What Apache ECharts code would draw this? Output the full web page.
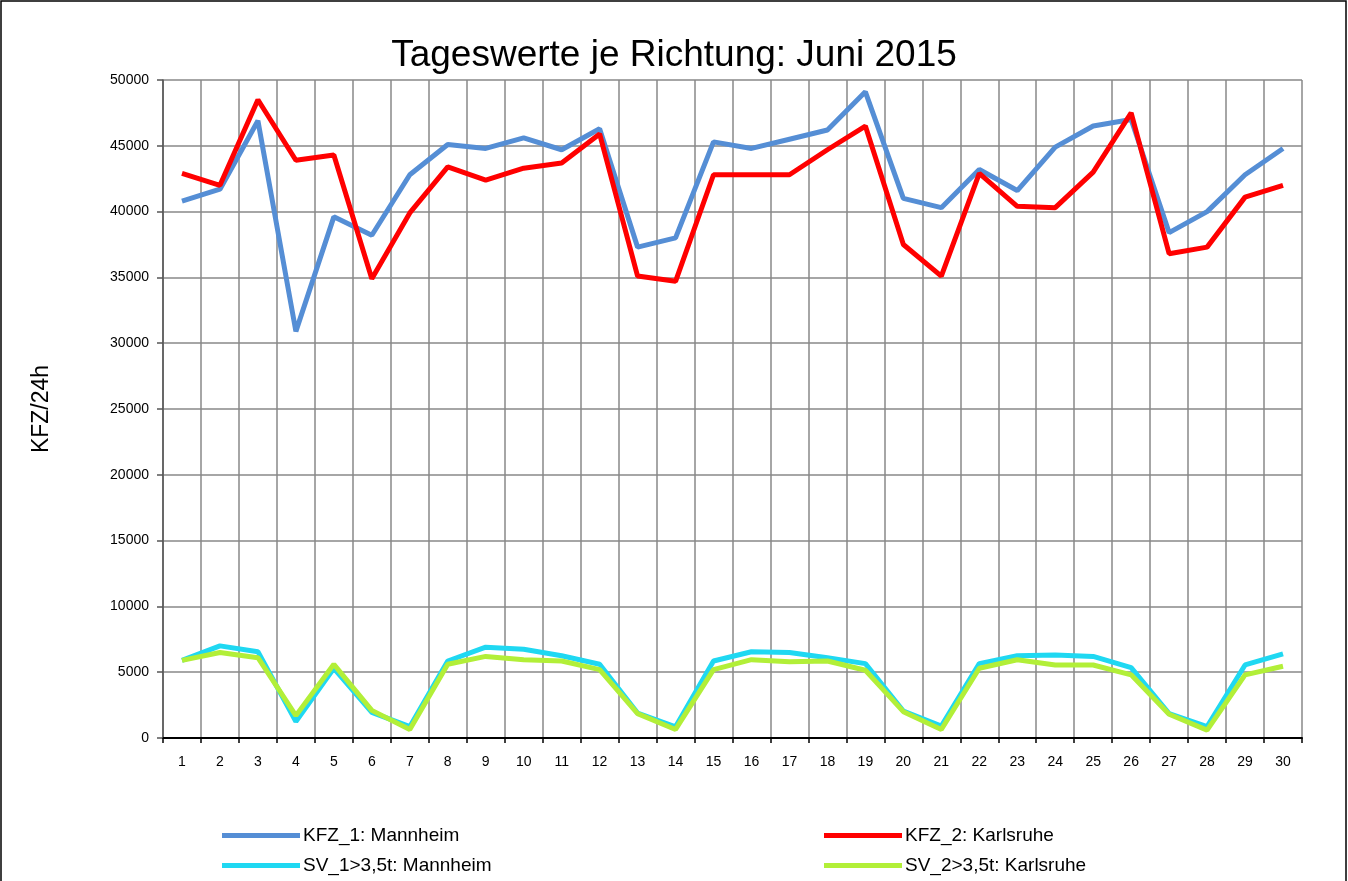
<!DOCTYPE html>
<html>
<head>
<meta charset="utf-8">
<style>
  html, body { margin: 0; padding: 0; background: #fff; }
  #chart-dev { width: 1348px; height: 881px; }
</style>
<script src="https://cdn.jsdelivr.net/npm/echarts@6/dist/echarts.min.js"></script>
</head>
<body>
<div id="chart-dev"></div>
<script>
var days = ['1','2','3','4','5','6','7','8','9','10','11','12','13','14','15',
            '16','17','18','19','20','21','22','23','24','25','26','27','28','29','30'];

var kfz1 = [40800, 41700, 46900, 30900, 39600, 38200, 42800, 45100, 44800, 45600,
            44700, 46300, 37300, 38000, 45300, 44800, 45500, 46200, 49100, 41000,
            40300, 43200, 41600, 44900, 46500, 47000, 38400, 40000, 42800, 44800];

var kfz2 = [42900, 42000, 48500, 43900, 44300, 34900, 39900, 43400, 42400, 43300,
            43700, 45900, 35100, 34700, 42800, 42800, 42800, 44700, 46500, 37500,
            35100, 42900, 40400, 40300, 43000, 47500, 36800, 37300, 41100, 42000];

var sv1 = [5900, 7000, 6550, 1250, 5300, 1950, 860, 5850, 6900, 6750,
           6250, 5600, 1900, 850, 5850, 6550, 6500, 6100, 5650, 2050,
           900, 5650, 6250, 6300, 6200, 5350, 1850, 860, 5550, 6400];

var sv2 = [5900, 6500, 6100, 1700, 5600, 2100, 650, 5600, 6200, 5950,
           5850, 5200, 1850, 650, 5200, 5950, 5800, 5850, 5150, 2000,
           650, 5300, 5950, 5550, 5550, 4800, 1800, 600, 4800, 5450];

var names = ['KFZ_1: Mannheim', 'KFZ_2: Karlsruhe', 'SV_1>3,5t: Mannheim', 'SV_2>3,5t: Karlsruhe'];
var colors = ['#558ED5', '#FF0000', '#1FD8F2', '#B2EF38'];

var dom = document.getElementById('chart-dev');
var myChart = echarts.init(dom, null, { renderer: 'canvas' });

var font = 'Liberation Sans';

function lineSeries(name, data, color) {
    return {
        name: name,
        type: 'line',
        data: data,
        showSymbol: false,
        symbol: 'none',
        lineStyle: { color: color, width: 5 },
        itemStyle: { color: color }
    };
}

// one legend per entry so the 2x2 layout sits where the original has it
function legendAt(name, left, top) {
    return {
        data: [name],
        left: left,
        top: top,
        padding: 0,
        itemWidth: 78,
        itemHeight: 5,
        icon: 'rect',
        textStyle: { fontFamily: font, fontSize: 19, color: '#000', padding: [0, 0, 0, -2] }
    };
}

var option = {
    animation: false,
    textStyle: { fontFamily: font },
    title: {
        text: 'Tageswerte je Richtung: Juni 2015',
        left: 'center',
        top: 32,
        textStyle: { fontFamily: font, fontSize: 37, fontWeight: 'normal', color: '#000' }
    },
    graphic: [{
        type: 'rect',
        shape: { x: 1, y: 1, width: 1345, height: 890 },
        style: { fill: 'none', stroke: '#000', lineWidth: 1.5 },
        silent: true
    }],
    legend: [
        legendAt(names[0], 222, 826),
        legendAt(names[1], 824, 826),
        legendAt(names[2], 222, 856),
        legendAt(names[3], 824, 856)
    ],
    grid: { left: 163, right: 46, top: 80, bottom: 143 },
    xAxis: {
        type: 'category',
        data: days,
        boundaryGap: true,
        axisLine: { lineStyle: { color: '#000', width: 2 } },
        axisTick: { show: true, length: 5, interval: 0, lineStyle: { color: '#000', width: 1.5 } },
        axisLabel: { interval: 0, margin: 17, fontSize: 14, color: '#000', fontFamily: font },
        splitLine: { show: true, interval: 0, lineStyle: { color: '#888', width: 1.5 } }
    },
    yAxis: {
        type: 'value',
        min: 0,
        max: 50000,
        interval: 5000,
        name: 'KFZ/24h',
        nameLocation: 'middle',
        nameGap: 110,
        nameTextStyle: { fontFamily: font, fontSize: 23, color: '#000' },
        axisLine: { show: true, lineStyle: { color: '#555', width: 1.5 } },
        axisTick: { show: true, length: 6, lineStyle: { color: '#555', width: 1.5 } },
        axisLabel: {
            margin: 14,
            fontSize: 14,
            color: '#000',
            fontFamily: font,
            formatter: function (v) { return String(v); }
        },
        splitLine: { show: true, lineStyle: { color: '#888', width: 1.5 } }
    },
    series: [
        lineSeries(names[0], kfz1, colors[0]),
        lineSeries(names[1], kfz2, colors[1]),
        lineSeries(names[2], sv1, colors[2]),
        lineSeries(names[3], sv2, colors[3])
    ]
};

if (option && typeof option === 'object') {
    myChart.setOption(option);
}

window.addEventListener('resize', myChart.resize);
</script>
</body>
</html>
